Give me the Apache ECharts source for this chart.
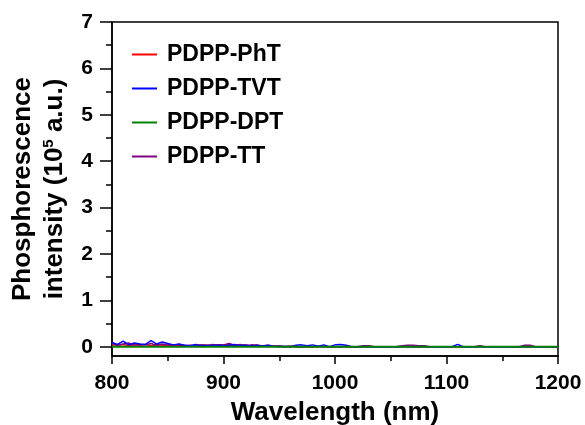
<!DOCTYPE html>
<html><head><meta charset="utf-8">
<script src="https://cdn.jsdelivr.net/npm/echarts@6/dist/echarts.min.js"></script>
<style>html,body{margin:0;padding:0;background:#fff}#c{width:585px;height:425px}</style>
</head><body><div id="c"></div>
<script>
const seriesNames = ["PDPP-PhT", "PDPP-TVT", "PDPP-DPT", "PDPP-TT"];
const wavelength = [800,805,810,815,820,825,830,835,840,845,850,855,860,865,870,875,880,885,890,895,900,905,910,915,920,925,930,935,940,945,950,955,960,965,970,975,980,985,990,995,1000,1005,1010,1015,1020,1025,1030,1035,1040,1045,1050,1055,1060,1065,1070,1075,1080,1085,1090,1095,1100,1105,1110,1115,1120,1125,1130,1135,1140,1145,1150,1155,1160,1165,1170,1175,1180,1185,1190,1195,1200];
const phT = [0.04,0.03,0.05,0.02,0.04,0.03,0.05,0.02,0.04,0.03,0.02,0.04,0.02,0.03,0.01,0.02,0.04,0.03,0.02,0.04,0.03,0.05,0.02,0.04,0.03,0.02,0.03,0.01,0.02,0.01,0.01,
  0.00,0.01,0.00,0.00,0.01,0.00,0.00,0.01,0.00,0.00,0.00,0.01,0.00,0.00,0.00,0.01,0.00,0.00,0.00,0.00,0.00,0.00,0.01,0.00,0.00,0.00,0.00,0.00,0.00,0.00,0.00,0.00,0.00,0.00,0.00,0.00,0.00,0.00,0.00,0.00,0.00,0.00,0.00,0.00,0.00,0.00,0.00,0.00,0.00,0.00];
const tvt = [0.09,0.05,0.12,0.04,0.08,0.06,0.05,0.13,0.06,0.10,0.07,0.04,0.06,0.03,0.02,0.05,0.02,0.03,0.02,0.04,0.02,0.03,0.05,0.02,0.04,0.01,0.03,0.01,0.03,0.01,0.00,0.01,0.00,0.03,0.04,0.02,0.04,0.01,0.04,0.00,0.04,0.05,0.03,0.00,
  0,0,0,0,0,0,0,0,0,0,0,0,0,0,0,0,0,0,0.05,0,0,0,0,0,0,0,0,0,0,0,0,0,0,0,0,0,0];
const dpt = [0,0,0,0,0,0,0,0,0,0,0,0,0,0,0,0,0,0,0,0,0,0,0,0,0,0,0,0,0,0,0,0,0,0,0,0,0,0,0,0,0,0,0,0,0,0,0,0,0,0,0,0,0,0,0,0,0,0,0,0,0,0,0,0,0,0,0,0,0,0,0,0,0,0,0,0,0,0,0,0,0];
const tt = [0.07,0.03,0.06,0.08,0.03,0.05,0.04,0.07,0.03,0.06,0.04,0.03,0.05,0.02,0.03,0.02,0.04,0.02,0.05,0.03,0.04,0.07,0.03,0.05,0.02,0.04,0.03,0.02,0.03,0.01,0.02,
  0.00,0.01,0.00,0.00,0.00,0.00,0.01,0.00,0.00,0.00,0.00,0.00,0.00,0.00,
  0.02,0.02,0.00,0.00,0.00,0.00,0.00,0.02,0.03,0.03,0.02,0.02,
  0,0,0,0,0,0,0,0,0,0.02,0,0,0,0,0,0,0,0.03,0.03,0,0,0,0,0];
const yMajorTicks = [0,1,2,3,4,5,6,7];
const yMinorTicks = [0.5,1.5,2.5,3.5,4.5,5.5,6.5];
const colors = ["#ff0000", "#0000ff", "#008000", "#800080"];

const pair = arr => wavelength.map((w, i) => [w, arr[i]]);
const FONT = "Liberation Sans";
const chart = echarts.init(document.getElementById('c'), null, {renderer: 'canvas'});
chart.setOption({
  animation: false,
  textStyle: {fontFamily: FONT},
  grid: {left: 112, right: 27, top: 22, bottom: 69, containLabel: false, outerBoundsMode: 'none',
    show: true, borderColor: '#000', borderWidth: 1.5, backgroundColor: 'transparent'},
  legend: {
    data: seriesNames.map(n => ({name: n, icon: 'path://M0,0H25V2H0Z'})),
    orient: 'vertical', left: 127, top: 38, itemWidth: 25, itemHeight: 2, itemGap: 11,
    textStyle: {fontFamily: FONT, fontWeight: 'bold', fontSize: 23, color: '#000', lineHeight: 23, padding: [0,0,0,5]}
  },
  xAxis: {
    type: 'value', min: 800, max: 1200, interval: 100,
    name: 'Wavelength (nm)', nameLocation: 'middle', nameGap: 44,
    nameTextStyle: {fontFamily: FONT, fontWeight: 'bold', fontSize: 26, color: '#000'},
    axisLine: {show: true, onZero: false, lineStyle: {color: '#000', width: 1.5}},
    axisTick: {show: true, inside: false, length: 8, lineStyle: {color: '#000', width: 1.5}},
    minorTick: {show: true, splitNumber: 2, length: 5, lineStyle: {color: '#000', width: 1.5}},
    axisLabel: {fontFamily: FONT, fontWeight: 'bold', fontSize: 21, color: '#000', margin: 17, formatter: v => String(v)},
    splitLine: {show: false}, minorSplitLine: {show: false}
  },
  yAxis: [{
    type: 'value', min: -0.2, max: 7,
    name: '{a|Phosphorescence}\n{a|intensity (10}{s|5}{a| a.u.)}', nameLocation: 'middle', nameGap: 40, nameRotate: 90,
    nameTextStyle: {fontFamily: FONT, fontWeight: 'bold', color: '#000', lineHeight: 32,
      rich: {a: {fontFamily: FONT, fontWeight: 'bold', fontSize: 26, color: '#000', lineHeight: 32},
             s: {fontFamily: FONT, fontWeight: 'bold', fontSize: 15, color: '#000', lineHeight: 32, padding: [0,0,12,0]}}},
    axisLine: {show: true, onZero: false, lineStyle: {color: '#000', width: 1.5}},
    axisTick: {show: true, inside: false, length: 12, customValues: yMajorTicks, lineStyle: {color: '#000', width: 1.5}},
    axisLabel: {fontFamily: FONT, fontWeight: 'bold', fontSize: 21, color: '#000', margin: 19, customValues: yMajorTicks, formatter: v => String(v)},
    splitLine: {show: false}
  }, {
    type: 'value', min: -0.2, max: 7, position: 'left',
    axisLine: {show: false},
    axisTick: {show: true, inside: false, length: 6, customValues: yMinorTicks, lineStyle: {color: '#000', width: 1.5}},
    axisLabel: {show: false},
    splitLine: {show: false}
  }],
  series: [
    {name: seriesNames[0], type: 'line', data: pair(phT), symbol: 'none', showSymbol: false, z: 2, lineStyle: {color: colors[0], width: 1.5}, itemStyle: {color: colors[0]}},
    {name: seriesNames[1], type: 'line', data: pair(tvt), symbol: 'none', showSymbol: false, z: 4, lineStyle: {color: colors[1], width: 1.5}, itemStyle: {color: colors[1]}},
    {name: seriesNames[2], type: 'line', data: pair(dpt), symbol: 'none', showSymbol: false, z: 5, lineStyle: {color: colors[2], width: 2}, itemStyle: {color: colors[2]}},
    {name: seriesNames[3], type: 'line', data: pair(tt), symbol: 'none', showSymbol: false, z: 3, lineStyle: {color: colors[3], width: 1.5}, itemStyle: {color: colors[3]}}
  ]
});
</script></body></html>
